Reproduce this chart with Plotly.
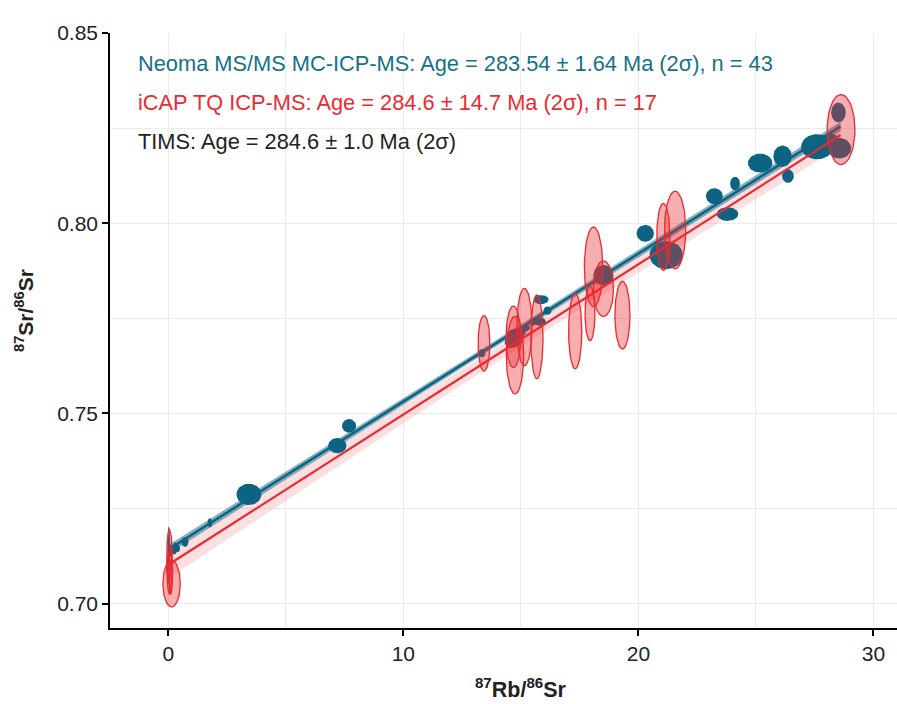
import numpy as np
import plotly.graph_objects as go

# ---- Neoma MS/MS MC-ICP-MS analyses: centre and 2-sigma half-axes ----
neoma_x = [0.02, 0.08, 0.15, 0.25, 0.30, 0.40, 0.71, 1.77, 3.43, 7.19, 7.69,
           13.34, 14.61, 14.75, 14.90, 15.00, 15.20, 15.50, 15.81, 15.86, 16.13,
           18.51, 18.60, 20.29, 21.00, 21.18, 21.40, 23.23, 23.79, 24.11,
           25.18, 26.13, 26.36, 27.60, 27.90, 28.20, 28.51, 28.55,
           0.18, 0.35, 14.85, 21.30, 28.40]
neoma_y = [0.7148, 0.7138, 0.7142, 0.7140, 0.7150, 0.7145, 0.7162, 0.7212, 0.7287, 0.7415, 0.7467,
           0.7658, 0.7688, 0.7706, 0.7700, 0.7712, 0.7725, 0.7740, 0.7741, 0.7799, 0.7770,
           0.7863, 0.7860, 0.7973, 0.7905, 0.7916, 0.7925, 0.8071, 0.8024, 0.8104,
           0.8158, 0.8176, 0.8124, 0.8201, 0.8210, 0.8215, 0.8291, 0.8197,
           0.7144, 0.7147, 0.7690, 0.7920, 0.8205]
neoma_sx = [0.06, 0.07, 0.08, 0.12, 0.09, 0.10, 0.15, 0.10, 0.53, 0.39, 0.30,
            0.15, 0.30, 0.34, 0.20, 0.20, 0.18, 0.15, 0.25, 0.32, 0.17,
            0.43, 0.20, 0.37, 0.40, 0.71, 0.40, 0.36, 0.46, 0.21,
            0.52, 0.39, 0.25, 0.68, 0.40, 0.35, 0.31, 0.50,
            0.07, 0.07, 0.20, 0.30, 0.30]
neoma_sy = [0.0055, 0.0015, 0.0013, 0.0011, 0.0011, 0.0010, 0.0013, 0.0012, 0.0028, 0.0020, 0.0018,
            0.0011, 0.0016, 0.0016, 0.0010, 0.0010, 0.0010, 0.0010, 0.0011, 0.0012, 0.0011,
            0.0027, 0.0012, 0.0022, 0.0020, 0.0037, 0.0020, 0.0021, 0.0018, 0.0018,
            0.0025, 0.0028, 0.0018, 0.0033, 0.0020, 0.0020, 0.0026, 0.0027,
            0.0011, 0.0011, 0.0012, 0.0018, 0.0018]

# ---- iCAP TQ ICP-MS analyses ----
icap_x = [0.14, 0.05, 0.10, 0.02, 13.43, 14.68, 14.75, 15.15, 15.68, 17.31,
          18.09, 17.94, 18.51, 19.32, 21.06, 21.56, 28.62]
icap_y = [0.7052, 0.7110, 0.7085, 0.7095, 0.7684, 0.7701, 0.7653, 0.7727, 0.7701, 0.7716,
          0.7885, 0.7763, 0.7828, 0.7758, 0.7964, 0.7982, 0.8246]
icap_sx = [0.37, 0.12, 0.08, 0.06, 0.25, 0.31, 0.37, 0.32, 0.26, 0.28,
           0.39, 0.21, 0.43, 0.32, 0.28, 0.45, 0.59]
icap_sy = [0.0061, 0.0085, 0.0060, 0.0040, 0.0073, 0.0081, 0.0102, 0.0102, 0.0110, 0.0099,
           0.0105, 0.0072, 0.0073, 0.0089, 0.0088, 0.0102, 0.0092]

# ---- isochron fits: intercept, slope, x extent, confidence half-widths ----
neoma_fit = dict(intercept=0.7142, slope=0.00389, x0=0.05, x1=28.6)
icap_fit = dict(intercept=0.7102, slope=0.00395, x0=0.0, x1=28.6)
band_x = [0.0, 7.0, 14.0, 21.0, 28.6]
neoma_band = [0.0012, 0.0009, 0.0008, 0.0009, 0.0012]
icap_band = [0.0036, 0.0026, 0.0019, 0.0022, 0.0030]

TEAL = "#0c6482"
TEAL_TXT = "#15718a"
RED = "#ea2a31"

fig = go.Figure()


def band_trace(fit, hw, color):
    xs = np.linspace(fit["x0"], fit["x1"], 60)
    h = np.interp(xs, band_x, hw)
    yc = fit["intercept"] + fit["slope"] * xs
    bx = np.concatenate([xs, xs[::-1]])
    by = np.concatenate([yc + h, (yc - h)[::-1]])
    return go.Scatter(x=bx, y=by, mode="lines", fill="toself", fillcolor=color,
                      line=dict(width=0), hoverinfo="skip", showlegend=False)


def fit_line(fit, color, width):
    xs = [fit["x0"], fit["x1"]]
    ys = [fit["intercept"] + fit["slope"] * v for v in xs]
    return go.Scatter(x=xs, y=ys, mode="lines", line=dict(color=color, width=width),
                      hoverinfo="skip", showlegend=False)


def ellipse(cx, cy, sx, sy, fillcolor, linecolor, lw):
    t = np.linspace(0, 2 * np.pi, 60)
    return go.Scatter(x=cx + sx * np.cos(t), y=cy + sy * np.sin(t), mode="lines",
                      fill="toself", fillcolor=fillcolor,
                      line=dict(color=linecolor, width=lw),
                      hoverinfo="skip", showlegend=False)


# confidence envelopes and the Neoma regression
fig.add_trace(band_trace(icap_fit, icap_band, "rgba(234,42,49,0.15)"))
fig.add_trace(band_trace(neoma_fit, neoma_band, "rgba(12,100,130,0.5)"))
fig.add_trace(fit_line(neoma_fit, TEAL, 2.5))

# Neoma error ellipses
for cx, cy, sx, sy in zip(neoma_x, neoma_y, neoma_sx, neoma_sy):
    fig.add_trace(ellipse(cx, cy, sx, sy, TEAL, TEAL, 0))

# iCAP error ellipses
for cx, cy, sx, sy in zip(icap_x, icap_y, icap_sx, icap_sy):
    fig.add_trace(ellipse(cx, cy, sx, sy, "rgba(234,42,49,0.38)", RED, 1.3))

fig.add_trace(fit_line(icap_fit, RED, 2.2))

FONT = "Liberation Sans, Arial, sans-serif"

labels = [
    ("Neoma MS/MS MC-ICP-MS: Age = 283.54 ± 1.64 Ma (2σ), n = 43", TEAL_TXT, 63),
    ("iCAP TQ ICP-MS: Age = 284.6 ± 14.7 Ma (2σ), n = 17", RED, 102),
    ("TIMS: Age = 284.6 ± 1.0 Ma (2σ)", "#222222", 141),
]
for txt, col, ypx in labels:
    fig.add_annotation(x=136, y=ypx, xref="paper", yref="paper", text=txt,
                       showarrow=False, xanchor="left", yanchor="middle",
                       font=dict(family=FONT, size=21.8, color=col))

fig.add_annotation(text="<b><sup>87</sup>Rb/<sup>86</sup>Sr</b>", x=520, y=688,
                   showarrow=False, xanchor="center", yanchor="middle",
                   font=dict(family=FONT, size=21.5, color="#222222"))
fig.add_annotation(text="<b><sup>87</sup>Sr/<sup>86</sup>Sr</b>", x=24, y=311,
                   showarrow=False, xanchor="center", yanchor="middle", textangle=-90,
                   font=dict(family=FONT, size=21, color="#222222"))

# place the annotations in pixel positions of the page
W, H = 897, 704
ML, MR, MT, MB = 110, 0, 33, 76
for a in fig.layout.annotations:
    a.xref = "paper"
    a.yref = "paper"
    a.x = (a.x - ML) / (W - ML - MR)
    a.y = 1 - (a.y - MT) / (H - MT - MB)

grid = "#ebebeb"
fig.update_layout(
    width=W, height=H,
    margin=dict(l=ML, r=MR, t=MT, b=MB),
    plot_bgcolor="white", paper_bgcolor="white",
    font=dict(family=FONT, size=21, color="#222222"),
    xaxis=dict(range=[-2.48, 31.0], dtick=10, tick0=0, showline=True, linecolor="black",
               linewidth=1.5, ticks="outside", ticklen=6, tickwidth=1.5, tickcolor="black",
               showgrid=True, gridcolor=grid, gridwidth=1.2, zeroline=False,
               minor=dict(dtick=5, tick0=0, showgrid=True, gridcolor=grid, gridwidth=1.2, ticks=""),
               tickfont=dict(size=21)),
    yaxis=dict(range=[0.69356, 0.85], dtick=0.05, tick0=0.7, tickformat=".2f", showline=True,
               linecolor="black", linewidth=1.5, ticks="outside", ticklen=6, tickwidth=1.5,
               tickcolor="black", showgrid=True, gridcolor=grid, gridwidth=1.2, zeroline=False,
               minor=dict(dtick=0.025, tick0=0.7, showgrid=True, gridcolor=grid, gridwidth=1.2, ticks=""),
               tickfont=dict(size=21)),
)

fig.write_html("out.html")
